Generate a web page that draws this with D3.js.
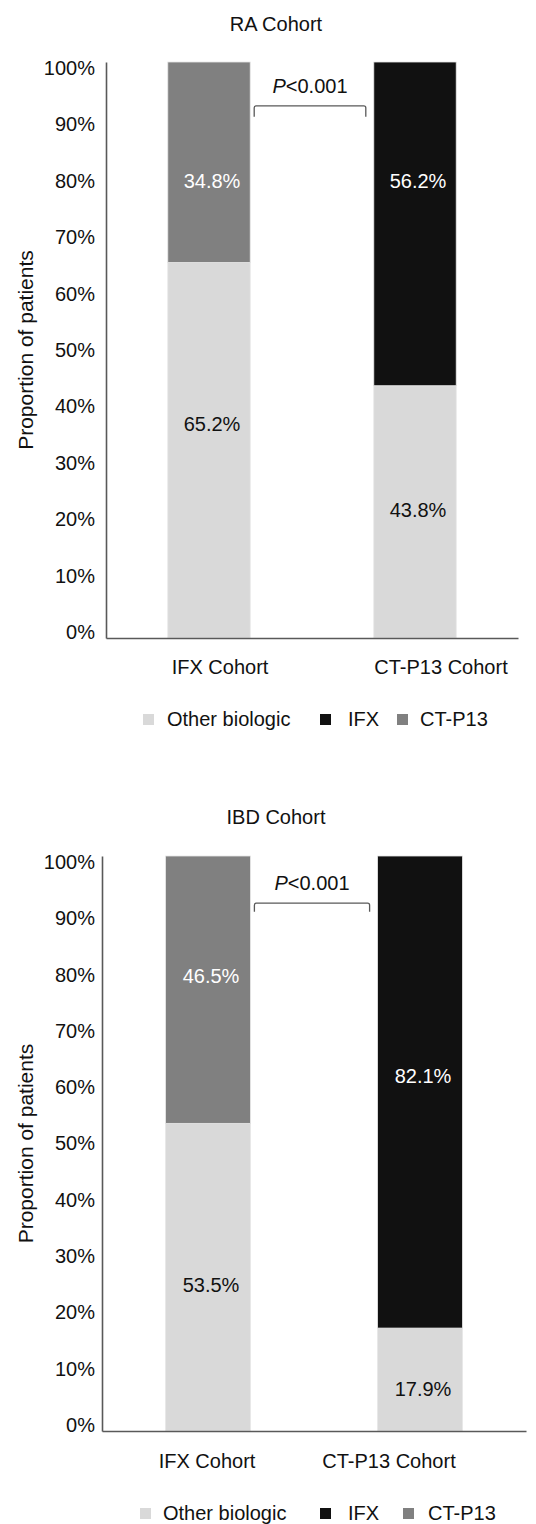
<!DOCTYPE html>
<html>
<head>
<meta charset="utf-8">
<script src="https://cdn.jsdelivr.net/npm/d3@7"></script>
<style>
  body { margin: 0; background: #fff; }
  svg text { font-family: "Liberation Sans", Arial, sans-serif; }
</style>
</head>
<body>
<div id="chart"></div>
<script>
// categories and series
const categories = ['IFX Cohort', 'CT-P13 Cohort'];
const seriesKeys = ['other', 'ifx', 'ctp13'];
const seriesNames = ['Other biologic', 'IFX', 'CT-P13'];
const seriesColors = ['#d9d9d9', '#111111', '#808080'];
const labelColors = ['#111', '#fff', '#fff'];
const yTicks = [0, 10, 20, 30, 40, 50, 60, 70, 80, 90, 100];

// RA cohort (% of patients)
const raOther = [65.2, 43.8];
const raIFX = [0, 56.2];
const raCTP13 = [34.8, 0];
// where the value labels sit (in % on the y axis)
const raLabelAt = { other: [37.2, 22.2], ifx: [null, 79.3], ctp13: [79.3, null] };

// IBD cohort (% of patients)
const ibdOther = [53.5, 17.9];
const ibdIFX = [0, 82.1];
const ibdCTP13 = [46.5, 0];
const ibdLabelAt = { other: [25.4, 7.3], ifx: [null, 61.7], ctp13: [79.1, null] };

const pText = '<0.001';

const svg = d3.select('#chart').append('svg')
  .attr('width', 536)
  .attr('height', 1524);

function drawPanel(p) {
  const rows = categories.map((c, i) => ({
    cat: c, other: p.other[i], ifx: p.ifx[i], ctp13: p.ctp13[i]
  }));

  const x = d3.scaleBand()
    .domain(categories)
    .range([p.left, p.right])
    .paddingInner(0.6)
    .paddingOuter(0.3);

  const y = d3.scaleLinear()
    .domain([0, 100])
    .range([p.bottom, p.top]);

  const g = svg.append('g');

  // title
  g.append('text')
    .attr('x', p.titleX)
    .attr('y', p.titleY)
    .attr('text-anchor', 'middle')
    .attr('font-size', 20)
    .attr('fill', '#111')
    .text(p.title);

  // bars
  const stacked = d3.stack().keys(seriesKeys)(rows);
  stacked.forEach((s, si) => {
    g.append('g')
      .selectAll('rect')
      .data(s.filter(d => d[1] - d[0] > 0))
      .join('rect')
      .attr('x', d => x(d.data.cat))
      .attr('width', x.bandwidth())
      .attr('y', d => y(d[1]))
      .attr('height', d => y(d[0]) - y(d[1]))
      .attr('fill', seriesColors[si])
      .attr('stroke', '#e6e6e6')
      .attr('stroke-width', 0.8);
  });

  // value labels
  seriesKeys.forEach((k, si) => {
    rows.forEach((r, ci) => {
      if (!r[k]) return;
      g.append('text')
        .attr('x', x(r.cat) + x.bandwidth() / 2 + 3)
        .attr('y', y(p.labelAt[k][ci]))
        .attr('dy', '0.35em')
        .attr('text-anchor', 'middle')
        .attr('font-size', 20)
        .attr('fill', labelColors[si])
        .text(r[k].toFixed(1) + '%');
    });
  });

  // y axis
  const yAxis = g.append('g')
    .attr('transform', 'translate(' + p.left + ',0)')
    .call(d3.axisLeft(y).tickValues(yTicks).tickSize(0).tickPadding(p.tickPad)
      .tickFormat(d => d + '%'));
  yAxis.select('.domain').attr('stroke', '#595959').attr('stroke-width', 1.6);
  // tick labels in the original sit a little inside the axis ends
  yAxis.selectAll('text').attr('font-size', 20).attr('fill', '#111')
    .attr('font-family', '"Liberation Sans", Arial, sans-serif')
    .attr('y', d => (d - 50) / 50 * 6);

  // x axis
  const xAxis = g.append('g')
    .attr('transform', 'translate(0,' + p.bottom + ')')
    .call(d3.axisBottom(x).tickSize(0).tickPadding(0));
  xAxis.select('.domain').attr('stroke', '#595959').attr('stroke-width', 1.6);
  xAxis.selectAll('text')
    .attr('font-size', 20).attr('fill', '#111')
    .attr('font-family', '"Liberation Sans", Arial, sans-serif')
    .attr('dy', null)
    .attr('y', p.catLabelDy)
    .attr('x', (d, i) => p.catShift[i]);

  // y axis title
  g.append('text')
    .attr('transform', 'translate(' + p.yTitleX + ',' + ((p.top + p.bottom) / 2) + ') rotate(-90)')
    .attr('text-anchor', 'middle')
    .attr('font-size', 21)
    .attr('fill', '#111')
    .text('Proportion of patients');

  // significance bracket
  const bx1 = x(categories[0]) + x.bandwidth() + 4;
  const bx2 = x(categories[1]) - 8;
  const by = y(p.bracketAt);
  const byLeg = y(p.bracketLegAt);
  g.append('path')
    .attr('d', 'M' + bx1 + ',' + byLeg + 'V' + (by + 2) + 'Q' + bx1 + ',' + by + ' ' + (bx1 + 2) + ',' + by +
      'H' + (bx2 - 2) + 'Q' + bx2 + ',' + by + ' ' + bx2 + ',' + (by + 2) + 'V' + byLeg)
    .attr('fill', 'none')
    .attr('stroke', '#595959')
    .attr('stroke-width', 1.3);
  const pt = g.append('text')
    .attr('x', (bx1 + bx2) / 2)
    .attr('y', by - 13)
    .attr('text-anchor', 'middle')
    .attr('font-size', 20)
    .attr('fill', '#111');
  pt.append('tspan').attr('font-style', 'italic').text('P');
  pt.append('tspan').text(pText);

  // legend
  const leg = g.append('g');
  seriesNames.forEach((name, i) => {
    leg.append('rect')
      .attr('x', p.legendSquareX[i])
      .attr('y', p.legendY - 12)
      .attr('width', 11)
      .attr('height', 11)
      .attr('fill', seriesColors[i]);
    leg.append('text')
      .attr('x', p.legendTextX[i])
      .attr('y', p.legendY)
      .attr('font-size', 20)
      .attr('fill', '#111')
      .text(name);
  });
}

drawPanel({
  title: 'RA Cohort', titleX: 276, titleY: 31,
  other: raOther, ifx: raIFX, ctp13: raCTP13, labelAt: raLabelAt,
  left: 106, right: 518, top: 62, bottom: 638, tickPad: 11,
  catLabelDy: 36, catShift: [11, 26],
  yTitleX: 33,
  bracketAt: 92.4, bracketLegAt: 90.5,
  legendY: 726, legendSquareX: [143, 320, 397], legendTextX: [167, 348, 420]
});

drawPanel({
  title: 'IBD Cohort', titleX: 276, titleY: 824,
  other: ibdOther, ifx: ibdIFX, ctp13: ibdCTP13, labelAt: ibdLabelAt,
  left: 102, right: 526, top: 856, bottom: 1431, tickPad: 7,
  catLabelDy: 37, catShift: [-1, -31],
  yTitleX: 33,
  bracketAt: 91.8, bracketLegAt: 90.3,
  legendY: 1520, legendSquareX: [140, 320, 403], legendTextX: [163, 348, 428]
});
</script>
</body>
</html>
